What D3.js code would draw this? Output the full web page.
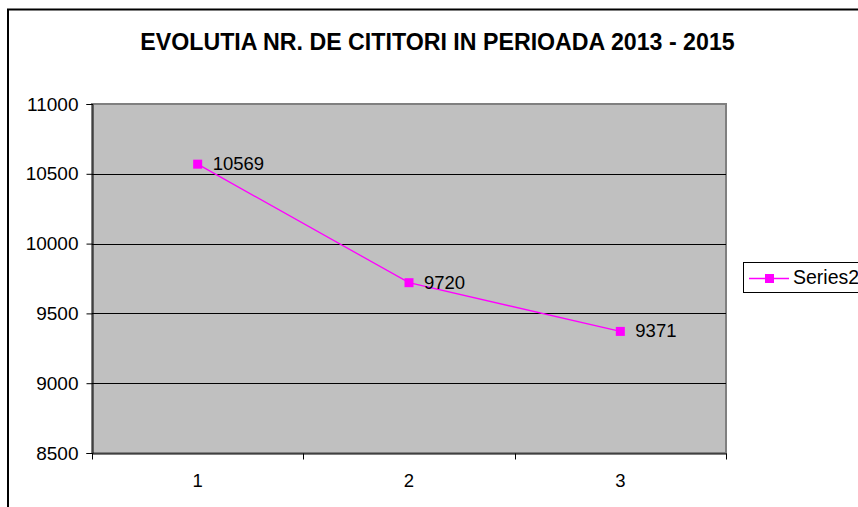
<!DOCTYPE html>
<html>
<head>
<meta charset="utf-8">
<script src="https://cdn.jsdelivr.net/npm/d3@7"></script>
<style>
  html, body { margin: 0; padding: 0; background: #fff; }
  svg { display: block; font-family: "Liberation Sans", Arial, sans-serif; }
</style>
</head>
<body>
<svg id="chart" width="858" height="507"></svg>
<script>
// Chart data
const title = "EVOLUTIA NR. DE CITITORI IN PERIOADA 2013 - 2015";
const categories = ["1", "2", "3"];
const seriesName = "Series2";
const readers = [10569, 9720, 9371];
const yTicks = [8500, 9000, 9500, 10000, 10500, 11000];

const svg = d3.select("#chart");
const W = 858, H = 507;
const plot = { left: 92, right: 726, top: 104, bottom: 453 };
const magenta = "#FF00FF";

// Outer chart frame
svg.append("rect")
  .attr("x", 8).attr("y", 9.5)
  .attr("width", W + 20).attr("height", H + 20)
  .attr("fill", "#fff").attr("stroke", "#000").attr("stroke-width", 2);

// Title
svg.append("text")
  .attr("x", 437.5).attr("y", 50)
  .attr("text-anchor", "middle")
  .attr("font-size", 23.2).attr("font-weight", "bold")
  .text(title);

const x = d3.scaleBand().domain(categories).range([plot.left, plot.right]);
const y = d3.scaleLinear().domain([8500, 11000]).range([plot.bottom, plot.top]);

// Plot area background
svg.append("rect")
  .attr("x", plot.left).attr("y", plot.top)
  .attr("width", plot.right - plot.left).attr("height", plot.bottom - plot.top)
  .attr("fill", "#C0C0C0").attr("stroke", "#808080").attr("stroke-width", 2);

// Horizontal gridlines
svg.append("g")
  .selectAll("line")
  .data(yTicks.filter(v => v > 8500 && v < 11000))
  .join("line")
  .attr("x1", plot.left).attr("x2", plot.right)
  .attr("y1", d => Math.round(y(d)) + 0.5).attr("y2", d => Math.round(y(d)) + 0.5)
  .attr("stroke", "#000").attr("stroke-width", 1);

// Y axis
const yAxis = svg.append("g")
  .attr("transform", `translate(${plot.left + 0.5},0)`)
  .call(d3.axisLeft(y).tickValues(yTicks).tickSize(6).tickPadding(8).tickFormat(d3.format("d")));
yAxis.select(".domain").attr("stroke", "#000");
yAxis.selectAll("text").attr("font-size", 19).attr("fill", "#000")
  .attr("font-family", "\"Liberation Sans\", Arial, sans-serif");

// X axis with ticks on category boundaries
const xAxis = svg.append("g")
  .attr("transform", `translate(0,${plot.bottom + 0.5})`)
  .call(d3.axisBottom(x).tickSize(0).tickPadding(20));
xAxis.select(".domain").attr("stroke", "#000");
xAxis.selectAll("text").attr("font-size", 18.5).attr("fill", "#000")
  .attr("font-family", "\"Liberation Sans\", Arial, sans-serif");
const bounds = categories.map(c => x(c)).concat([x(categories[categories.length - 1]) + x.bandwidth()]);
xAxis.selectAll("line.bound")
  .data(bounds)
  .join("line")
  .attr("class", "bound")
  .attr("x1", d => Math.round(d) + 0.5).attr("x2", d => Math.round(d) + 0.5)
  .attr("y1", 0).attr("y2", 6)
  .attr("stroke", "#000");

// Series line
const pts = categories.map((c, i) => ({ cx: x(c) + x.bandwidth() / 2, cy: y(readers[i]), v: readers[i] }));
svg.append("path")
  .datum(pts)
  .attr("fill", "none").attr("stroke", magenta).attr("stroke-width", 1.3)
  .attr("d", d3.line().x(d => d.cx).y(d => d.cy));

// Square markers
svg.append("g").selectAll("rect")
  .data(pts)
  .join("rect")
  .attr("x", d => d.cx - 4.5).attr("y", d => d.cy - 4.5)
  .attr("width", 9).attr("height", 9)
  .attr("fill", magenta);

// Value labels
svg.append("g").selectAll("text")
  .data(pts)
  .join("text")
  .attr("x", d => d.cx + 15).attr("y", d => d.cy + 6)
  .attr("font-size", 18.5).attr("fill", "#000")
  .text(d => d.v);

// Legend
const lg = svg.append("g");
lg.append("rect")
  .attr("x", 743.5).attr("y", 262.5)
  .attr("width", 130).attr("height", 30)
  .attr("fill", "#fff").attr("stroke", "#000").attr("stroke-width", 1);
lg.append("line")
  .attr("x1", 749).attr("x2", 789).attr("y1", 278.5).attr("y2", 278.5)
  .attr("stroke", magenta).attr("stroke-width", 1.3);
lg.append("rect")
  .attr("x", 765).attr("y", 274).attr("width", 9).attr("height", 9)
  .attr("fill", magenta);
lg.append("text")
  .attr("x", 793).attr("y", 284)
  .attr("font-size", 19.5).attr("fill", "#000")
  .text(seriesName);
</script>
</body>
</html>
